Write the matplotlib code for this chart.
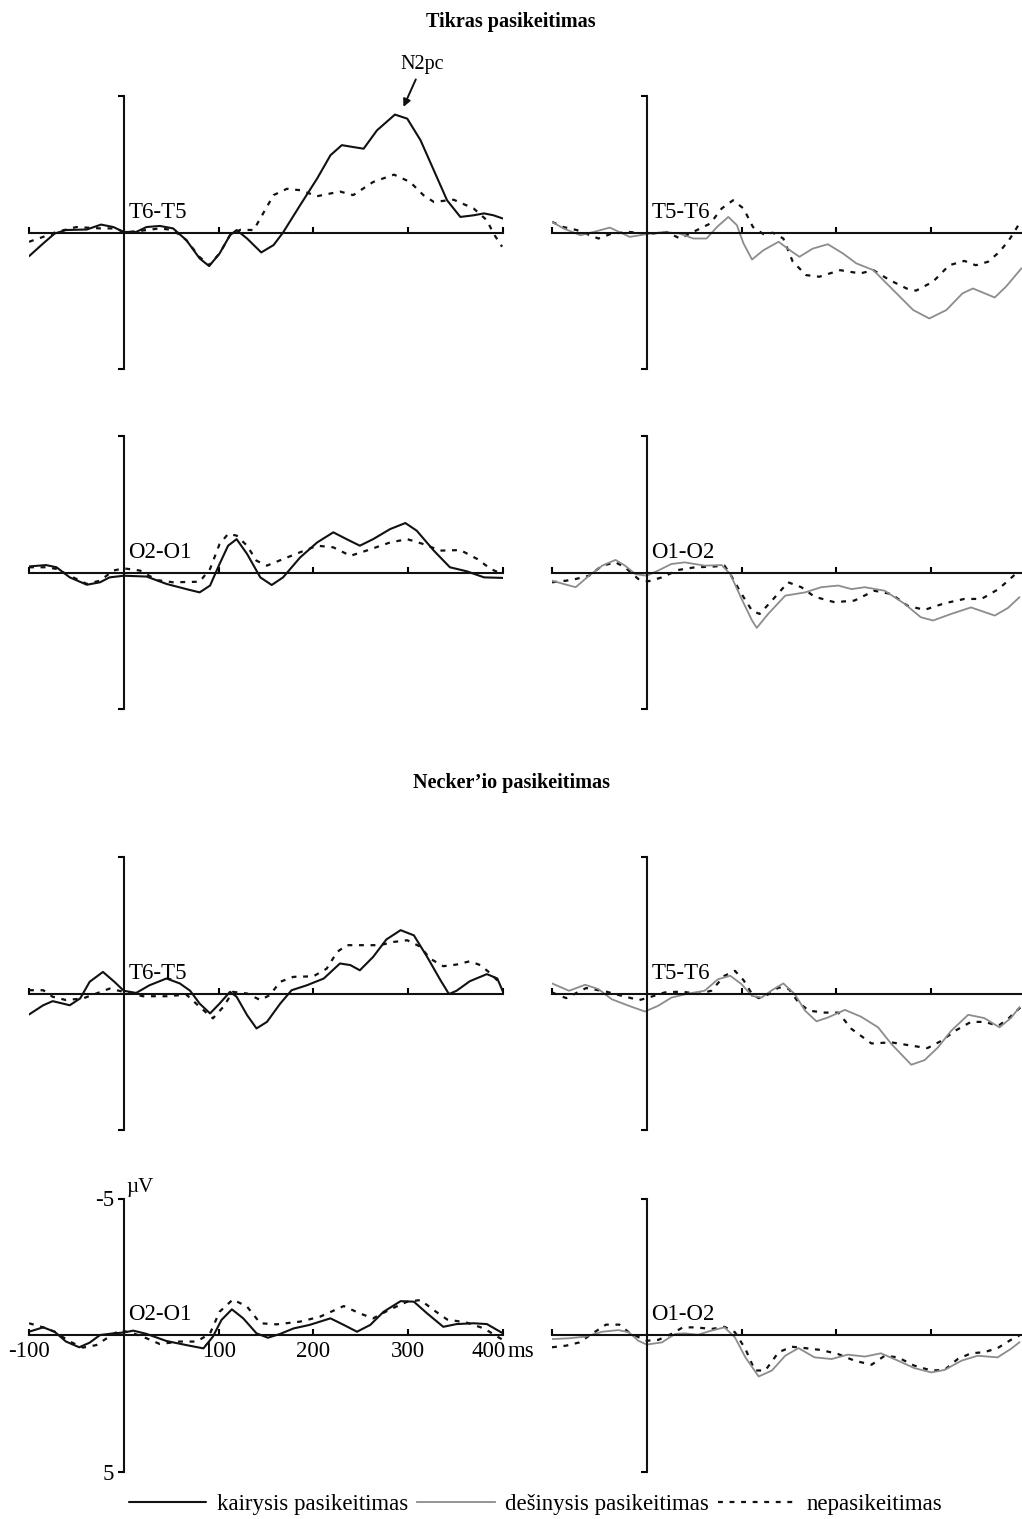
import numpy as np
import matplotlib
matplotlib.use("Agg")
import matplotlib.pyplot as plt
from matplotlib.lines import Line2D
import matplotlib.transforms as mtransforms

plt.rcParams['font.family'] = ['Liberation Serif', 'DejaVu Serif']
plt.rcParams['axes.unicode_minus'] = False

#######################################################################################
# data: time (ms) and amplitude (uV)

# Tikras pasikeitimas, T6-T5 (left)
tik_t6t5_kair_t = [-100, -85, -73, -61, -39, -24, -11, 0, 13, 24, 38, 52, 66, 80, 90, 101, 112, 119, 130, 145,
                   158, 168, 186, 204, 218, 230, 242, 253, 267, 286, 299, 313, 327, 341, 355, 369, 380, 390, 400]
tik_t6t5_kair_v = [0.87, 0.4, 0.04, -0.09, -0.11, -0.29, -0.2, -0.02, -0.02, -0.2, -0.24, -0.15, 0.28, 0.95, 1.23,
                   0.77, 0.1, -0.09, 0.22, 0.73, 0.46, 0.0, -1.0, -1.98, -2.83, -3.2, -3.13, -3.07, -3.74, -4.32,
                   -4.17, -3.38, -2.28, -1.18, -0.57, -0.63, -0.7, -0.63, -0.51]
tik_t6t5_nep_t = [-100, -85, -71, -50, -25, -8, 0, 17, 38, 52, 66, 80, 90, 101, 112, 123, 137, 147, 158, 172, 186,
                  204, 228, 242, 263, 285, 302, 316, 327, 348, 369, 383, 390, 399]
tik_t6t5_nep_v = [0.34, 0.16, -0.02, -0.2, -0.15, -0.15, 0.0, -0.06, -0.15, -0.09, 0.28, 0.9, 1.2, 0.77, 0.1, -0.1,
                  -0.09, -0.7, -1.37, -1.6, -1.55, -1.33, -1.5, -1.37, -1.85, -2.12, -1.85, -1.37, -1.12, -1.2,
                  -0.88, -0.45, 0.04, 0.52]

# Tikras pasikeitimas, T5-T6 (right)
tik_t5t6_des_t = [-100, -88, -70, -56, -39, -18, 0, 18, 35, 49, 63, 74, 86, 95, 102, 111, 123, 139, 151, 161, 175,
                  191, 207, 221, 239, 260, 281, 298, 316, 333, 344, 367, 379, 395]
tik_t5t6_des_v = [-0.39, -0.15, 0.1, -0.02, -0.18, 0.16, 0.06, -0.02, 0.04, 0.22, 0.22, -0.2, -0.57, -0.27, 0.4,
                  0.99, 0.65, 0.34, 0.65, 0.89, 0.59, 0.43, 0.77, 1.13, 1.38, 2.11, 2.84, 3.15, 2.84, 2.23, 2.05,
                  2.38, 1.98, 1.32]
tik_t5t6_nep_t = [-100, -88, -74, -51, -37, -18, 0, 21, 35, 53, 67, 79, 91, 102, 112, 123, 133, 144, 154, 168, 182,
                  204, 225, 239, 256, 274, 284, 302, 319, 335, 347, 360, 372, 382, 389, 395]
tik_t5t6_nep_v = [-0.39, -0.2, -0.09, 0.22, 0.04, -0.02, 0.06, -0.02, 0.22, -0.09, -0.33, -0.88, -1.18, -0.88,
                  -0.2, 0.06, 0.01, 0.22, 1.07, 1.56, 1.62, 1.38, 1.5, 1.38, 1.74, 2.05, 2.13, 1.8, 1.2, 1.04, 1.2,
                  1.07, 0.71, 0.28, -0.1, -0.45]

# Tikras pasikeitimas, O2-O1 (left)
tik_o2o1_kair_t = [-100, -82, -71, -57, -39, -25, -15, 0, 24, 45, 66, 80, 91, 101, 110, 119, 130, 144, 156, 168,
                   186, 204, 221, 235, 249, 263, 281, 297, 309, 327, 344, 362, 380, 400]
tik_o2o1_kair_v = [-0.24, -0.29, -0.21, 0.16, 0.43, 0.34, 0.16, 0.1, 0.13, 0.4, 0.59, 0.71, 0.46, -0.33, -1.0,
                   -1.24, -0.7, 0.16, 0.44, 0.16, -0.57, -1.12, -1.49, -1.24, -1.0, -1.24, -1.61, -1.83, -1.55,
                   -0.82, -0.21, -0.06, 0.16, 0.18]
tik_o2o1_nep_t = [-100, -82, -71, -57, -39, -25, -11, 0, 17, 35, 52, 80, 91, 101, 110, 119, 130, 140, 151, 168,
                  186, 204, 221, 239, 256, 281, 299, 316, 334, 355, 373, 387, 399]
tik_o2o1_nep_v = [-0.21, -0.21, -0.15, 0.1, 0.4, 0.28, -0.09, -0.17, -0.09, 0.26, 0.34, 0.32, -0.15, -1.06, -1.43,
                  -1.37, -1.0, -0.45, -0.27, -0.51, -0.76, -1.0, -0.94, -0.63, -0.82, -1.12, -1.24, -1.06, -0.82,
                  -0.84, -0.51, -0.15, 0.04]

# Tikras pasikeitimas, O1-O2 (right)
tik_o1o2_des_t = [-100, -88, -75, -61, -47, -33, -23, -12, 0, 12, 26, 40, 61, 79, 88, 100, 111, 116, 128, 146, 167,
                  184, 202, 216, 230, 251, 272, 289, 302, 321, 342, 367, 381, 393]
tik_o1o2_des_v = [0.28, 0.4, 0.52, 0.1, -0.27, -0.48, -0.27, 0.04, 0.1, -0.09, -0.33, -0.39, -0.27, -0.29, 0.04,
                  0.95, 1.74, 2.01, 1.5, 0.83, 0.71, 0.52, 0.46, 0.59, 0.52, 0.65, 1.13, 1.62, 1.74, 1.5, 1.26,
                  1.56, 1.28, 0.89]
tik_o1o2_nep_t = [-100, -85, -75, -61, -47, -33, -23, -9, 2, 16, 33, 51, 68, 82, 89, 100, 111, 119, 132, 149, 163,
                  177, 198, 219, 240, 258, 275, 293, 314, 335, 353, 371, 385, 393]
tik_o1o2_nep_v = [0.34, 0.28, 0.22, 0.1, -0.27, -0.39, -0.21, 0.22, 0.3, 0.16, -0.11, -0.21, -0.23, -0.27, 0.1,
                  0.77, 1.38, 1.5, 1.01, 0.34, 0.52, 0.87, 1.07, 1.01, 0.65, 0.77, 1.2, 1.35, 1.11, 0.95, 0.95,
                  0.59, 0.16, -0.09]

# Necker'io pasikeitimas, T6-T5 (left)
nec_t6t5_kair_t = [-100, -85, -75, -57, -46, -36, -22, -10, 0, 13, 27, 45, 59, 70, 80, 91, 101, 112, 119, 130, 140,
                   151, 165, 177, 193, 211, 228, 239, 249, 263, 277, 292, 306, 320, 334, 343, 351, 365, 383, 394,
                   400]
nec_t6t5_kair_v = [0.77, 0.43, 0.28, 0.43, 0.18, -0.43, -0.79, -0.43, -0.1, -0.02, -0.3, -0.55, -0.37, -0.1, 0.37,
                   0.73, 0.37, -0.06, 0.12, 0.79, 1.28, 1.04, 0.37, -0.12, -0.3, -0.55, -1.1, -1.04, -0.85, -1.34,
                   -1.98, -2.32, -2.13, -1.34, -0.49, 0.02, -0.1, -0.45, -0.71, -0.55, -0.06]
nec_t6t5_nep_t = [-100, -85, -75, -61, -43, -29, -15, 0, 20, 45, 66, 80, 94, 105, 115, 130, 144, 154, 165, 179,
                  200, 214, 225, 235, 253, 270, 285, 299, 313, 323, 337, 351, 365, 376, 387, 397]
nec_t6t5_nep_v = [-0.12, -0.12, 0.12, 0.24, 0.18, 0.0, -0.18, -0.06, 0.1, 0.1, 0.04, 0.49, 0.91, 0.49, -0.06, 0.0,
                  0.24, 0.06, -0.43, -0.61, -0.63, -0.91, -1.52, -1.77, -1.77, -1.77, -1.89, -1.95, -1.71, -1.28,
                  -1.0, -1.06, -1.18, -1.04, -0.73, -0.37]

# Necker'io pasikeitimas, T5-T6 (right)
nec_t5t6_des_t = [-100, -82, -65, -51, -37, -19, -2, 12, 26, 44, 61, 75, 88, 100, 111, 121, 132, 144, 156, 167,
                  179, 191, 209, 226, 244, 258, 279, 293, 307, 321, 339, 356, 372, 384, 393]
nec_t5t6_des_v = [-0.37, -0.1, -0.32, -0.16, 0.21, 0.45, 0.66, 0.45, 0.15, 0.0, -0.1, -0.52, -0.65, -0.34, 0.09,
                  0.15, -0.12, -0.37, 0.02, 0.63, 1.02, 0.88, 0.6, 0.85, 1.24, 1.85, 2.61, 2.44, 1.98, 1.37, 0.78,
                  0.9, 1.24, 0.9, 0.51]
nec_t5t6_nep_t = [-100, -85, -64, -43, -26, -8, 0, 19, 37, 54, 68, 82, 93, 102, 111, 118, 129, 139, 150, 160, 171,
                  188, 202, 216, 237, 258, 279, 296, 311, 325, 342, 356, 371, 382, 394]
nec_t5t6_nep_v = [-0.04, 0.17, -0.2, -0.07, 0.09, 0.24, 0.17, -0.04, -0.07, 0.02, -0.1, -0.65, -0.83, -0.49, 0.02,
                  0.17, 0.02, -0.22, -0.16, 0.33, 0.63, 0.7, 0.7, 1.3, 1.83, 1.79, 1.91, 2.0, 1.73, 1.37, 1.04,
                  1.04, 1.18, 0.9, 0.51]

# Necker'io pasikeitimas, O2-O1 (left)
nec_o2o1_kair_t = [-100, -85, -73, -61, -47, -36, -25, -11, 0, 10, 24, 45, 66, 84, 94, 103, 114, 126, 140, 152, 165,
                   179, 196, 218, 232, 246, 260, 274, 292, 306, 320, 337, 351, 369, 383, 400]
nec_o2o1_kair_v = [-0.12, -0.28, -0.12, 0.24, 0.45, 0.28, 0.0, -0.06, -0.09, -0.16, -0.04, 0.22, 0.37, 0.49, 0.06,
                   -0.55, -0.94, -0.61, -0.06, 0.1, -0.04, -0.24, -0.37, -0.61, -0.37, -0.12, -0.37, -0.85, -1.24,
                   -1.22, -0.79, -0.3, -0.4, -0.43, -0.4, -0.06]
nec_o2o1_nep_t = [-100, -85, -73, -57, -43, -29, -18, -4, 10, 24, 38, 59, 77, 91, 101, 115, 130, 144, 161, 186, 207,
                  232, 249, 263, 281, 299, 313, 327, 341, 362, 380, 394, 400]
nec_o2o1_nep_v = [-0.43, -0.28, -0.12, 0.24, 0.46, 0.37, 0.12, -0.18, -0.06, 0.12, 0.33, 0.24, 0.24, -0.06, -0.85,
                  -1.3, -1.04, -0.43, -0.39, -0.49, -0.67, -1.06, -0.79, -0.61, -0.94, -1.22, -1.28, -0.91, -0.57,
                  -0.45, -0.24, 0.06, 0.18]

# Necker'io pasikeitimas, O1-O2 (right)
nec_o1o2_des_t = [-100, -82, -65, -47, -30, -19, -9, 0, 16, 30, 40, 54, 68, 82, 93, 104, 118, 132, 146, 160, 177,
                  195, 212, 230, 247, 265, 282, 300, 314, 332, 349, 370, 384, 393]
nec_o1o2_des_v = [0.15, 0.12, 0.06, -0.12, -0.18, -0.1, 0.21, 0.35, 0.27, -0.04, -0.06, -0.01, -0.16, -0.28, 0.09,
                  0.82, 1.52, 1.3, 0.76, 0.48, 0.82, 0.88, 0.72, 0.79, 0.67, 0.94, 1.21, 1.37, 1.28, 0.94, 0.76,
                  0.82, 0.51, 0.27]
nec_o1o2_nep_t = [-100, -85, -71, -58, -43, -29, -19, -8, 0, 12, 26, 38, 52, 68, 82, 93, 104, 114, 125, 139, 153,
                  167, 184, 202, 219, 237, 251, 265, 282, 300, 314, 328, 342, 356, 370, 384, 393]
nec_o1o2_nep_v = [0.45, 0.39, 0.27, -0.04, -0.38, -0.38, -0.1, 0.09, 0.21, 0.18, -0.04, -0.28, -0.28, -0.22, -0.3,
                  -0.1, 0.51, 1.3, 1.3, 0.63, 0.43, 0.48, 0.55, 0.7, 0.94, 1.09, 0.76, 0.82, 1.12, 1.3, 1.28, 0.88,
                  0.67, 0.63, 0.48, 0.18, 0.02]

x_ticks = [-100, 100, 200, 300, 400]
x_tick_labels = ['-100', '100', '200', '300', '400']
y_ticks = [-5, 5]
y_tick_labels = ['-5', '5']

legend_labels = ['kairysis pasikeitimas', 'dešinysis pasikeitimas', 'nepasikeitimas']

#######################################################################################

W, H = 1022, 1519
fig = plt.figure(figsize=(W / 100, H / 100), dpi=100)

BLACK = '#111111'
GREY = '#8c8c8c'
solid_style = dict(color=BLACK, lw=1.5, solid_joinstyle='round', solid_capstyle='round')
grey_style = dict(color=GREY, lw=1.3, solid_joinstyle='round')
dash_style = dict(color=BLACK, lw=1.6, linestyle=(0, (2.2, 3.0)))
TICK_FS = 16.5


def make_axes(left_px, top_px, width_px=474, height_px=273):
    ax = fig.add_axes([left_px / W, 1 - (top_px + height_px) / H, width_px / W, height_px / H])
    ax.set_xlim(-100, 400)
    ax.set_ylim(5, -5)
    ax.patch.set_alpha(0)
    for side in ['top', 'right']:
        ax.spines[side].set_visible(False)
    ax.spines['left'].set_position(('data', 0))
    ax.spines['bottom'].set_position(('data', 0))
    for side in ['left', 'bottom']:
        ax.spines[side].set_linewidth(1.5)
        ax.spines[side].set_color(BLACK)
    ax.set_xticks(x_ticks)
    ax.set_yticks(y_ticks)
    ax.tick_params(axis='x', direction='in', length=4, width=1.5, labelbottom=False, labelsize=TICK_FS)
    ax.tick_params(axis='y', direction='out', length=4, width=1.5, labelleft=False, labelsize=TICK_FS)
    return ax


def draw_panel(ax, label, t1, v1, t2, v2, grey=False):
    ax.plot(t2, v2, **dash_style)
    ax.plot(t1, v1, **(grey_style if grey else solid_style))
    ax.text(5, -0.35, label, fontsize=16.5, ha='left', va='bottom')


rows_top = [96, 436.5, 857, 1198.5]
left_x, right_x = 29, 552

ax1 = make_axes(left_x, rows_top[0])
draw_panel(ax1, 'T6-T5', tik_t6t5_kair_t, tik_t6t5_kair_v, tik_t6t5_nep_t, tik_t6t5_nep_v)
ax1.annotate('N2pc', xy=(295, -4.6), xytext=(315, -6.15), fontsize=14.5, ha='center', va='center',
             annotation_clip=False,
             arrowprops=dict(arrowstyle='-|>', color=BLACK, lw=1.4, mutation_scale=11, shrinkA=2, shrinkB=0))

ax2 = make_axes(right_x, rows_top[0])
draw_panel(ax2, 'T5-T6', tik_t5t6_des_t, tik_t5t6_des_v, tik_t5t6_nep_t, tik_t5t6_nep_v, grey=True)

ax3 = make_axes(left_x, rows_top[1])
draw_panel(ax3, 'O2-O1', tik_o2o1_kair_t, tik_o2o1_kair_v, tik_o2o1_nep_t, tik_o2o1_nep_v)

ax4 = make_axes(right_x, rows_top[1])
draw_panel(ax4, 'O1-O2', tik_o1o2_des_t, tik_o1o2_des_v, tik_o1o2_nep_t, tik_o1o2_nep_v, grey=True)

ax5 = make_axes(left_x, rows_top[2])
draw_panel(ax5, 'T6-T5', nec_t6t5_kair_t, nec_t6t5_kair_v, nec_t6t5_nep_t, nec_t6t5_nep_v)

ax6 = make_axes(right_x, rows_top[2])
draw_panel(ax6, 'T5-T6', nec_t5t6_des_t, nec_t5t6_des_v, nec_t5t6_nep_t, nec_t5t6_nep_v, grey=True)

ax7 = make_axes(left_x, rows_top[3])
draw_panel(ax7, 'O2-O1', nec_o2o1_kair_t, nec_o2o1_kair_v, nec_o2o1_nep_t, nec_o2o1_nep_v)
ax7.tick_params(axis='x', labelbottom=True, pad=4)
ax7.tick_params(axis='y', labelleft=True, pad=3)
ax7.set_xticklabels(x_tick_labels)
ax7.set_yticklabels(y_tick_labels)
# last label sits left of its tick so that "ms" fits after it
last = ax7.get_xticklabels()[-1]
last.set_horizontalalignment('right')
last.set_transform(last.get_transform() + mtransforms.ScaledTranslation(2 / 72, 0, fig.dpi_scale_trans))
ms_trans = mtransforms.offset_copy(ax7.transData, fig=fig, x=3, y=-4, units='points')
ax7.text(400, 0, 'ms', fontsize=TICK_FS, ha='left', va='top', transform=ms_trans)
ax7.text(3, -5.05, 'µV', fontsize=15, ha='left', va='bottom')

ax8 = make_axes(right_x, rows_top[3])
draw_panel(ax8, 'O1-O2', nec_o1o2_des_t, nec_o1o2_des_v, nec_o1o2_nep_t, nec_o1o2_nep_v, grey=True)

fig.text(0.5, 1 - 22 / H, 'Tikras pasikeitimas', fontsize=14.5, fontweight='bold', ha='center', va='center')
fig.text(0.5, 1 - 783 / H, 'Necker\u2019io pasikeitimas', fontsize=14.5, fontweight='bold', ha='center', va='center')

handles = [Line2D([], [], **solid_style), Line2D([], [], **grey_style), Line2D([], [], **dash_style)]
fig.legend(handles, legend_labels, loc='center', bbox_to_anchor=(0.524, 1 - 1504 / H), ncol=3, frameon=False,
           fontsize=16.5, handlelength=3.4, handletextpad=0.45, columnspacing=0.4)

fig.savefig('out.png', dpi=100)
